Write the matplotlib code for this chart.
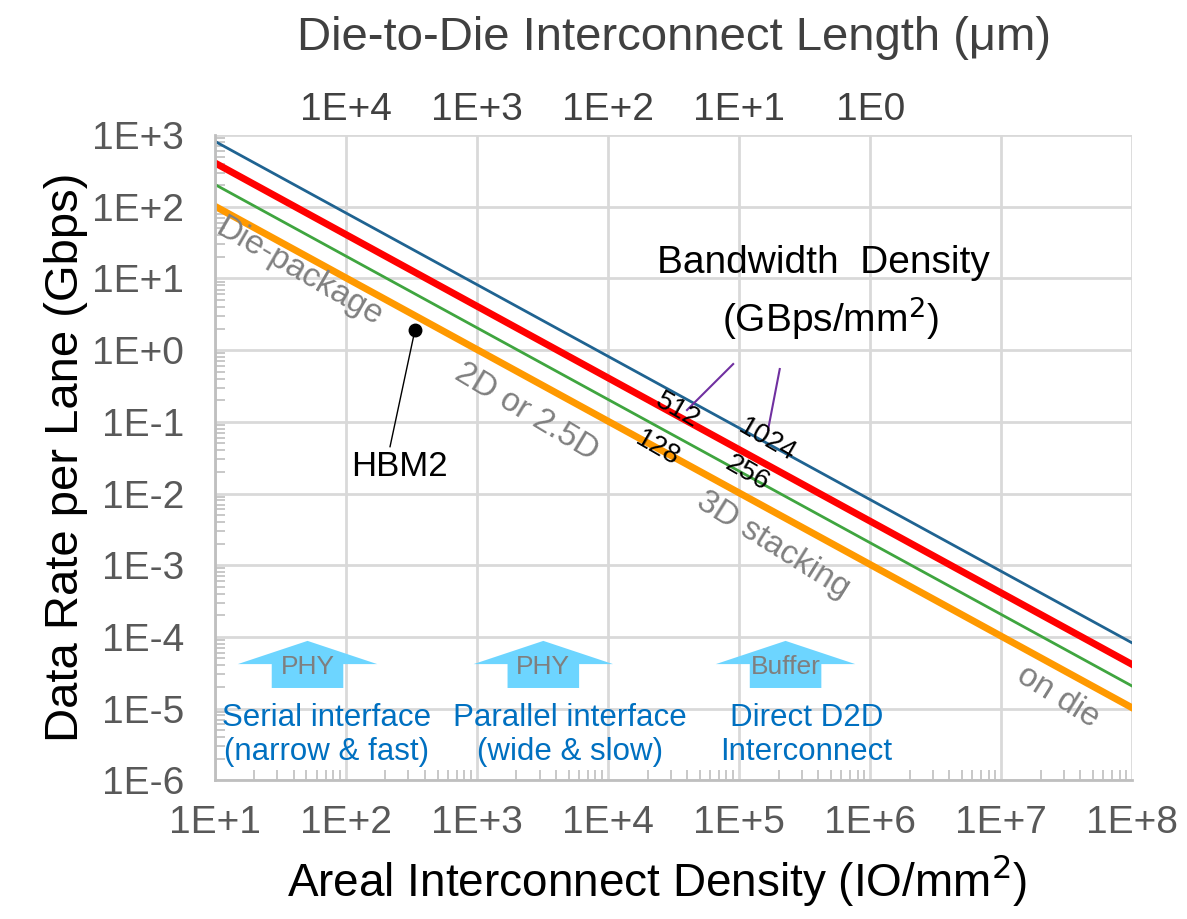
import matplotlib
matplotlib.use("Agg")
import matplotlib.pyplot as plt
from matplotlib.patches import Polygon
from matplotlib.ticker import LogLocator, NullFormatter

# data (Gbps per lane vs IO/mm2)
density = [1e1, 1e2, 1e3, 1e4, 1e5, 1e6, 1e7, 1e8]
bw_1024 = [820, 82, 8.2, 0.82, 0.082, 0.0082, 0.00082, 0.000082]
bw_512 = [410, 41, 4.1, 0.41, 0.041, 0.0041, 0.00041, 0.000041]
bw_256 = [205, 20.5, 2.05, 0.205, 0.0205, 0.00205, 0.000205, 0.0000205]
bw_128 = [102, 10.2, 1.02, 0.102, 0.0102, 0.00102, 0.000102, 0.0000102]

x_ticks = [1e1, 1e2, 1e3, 1e4, 1e5, 1e6, 1e7, 1e8]
x_labels = ["1E+1", "1E+2", "1E+3", "1E+4", "1E+5", "1E+6", "1E+7", "1E+8"]
y_ticks = [1e-6, 1e-5, 1e-4, 1e-3, 1e-2, 1e-1, 1e0, 1e1, 1e2, 1e3]
y_labels = ["1E-6", "1E-5", "1E-4", "1E-3", "1E-2", "1E-1", "1E+0", "1E+1", "1E+2", "1E+3"]
top_ticks = [1e4, 1e3, 1e2, 1e1, 1e0]
top_labels = ["1E+4", "1E+3", "1E+2", "1E+1", "1E0"]

hbm2_x, hbm2_y = 336, 1.9

plt.rcParams["font.family"] = ["Liberation Sans", "DejaVu Sans"]
gray_txt = "#595959"
grid_c = "#D9D9D9"

fig = plt.figure(figsize=(11.87, 9.19), dpi=100)
ax = fig.add_axes([0.181, 0.151, 0.773, 0.702])

ax.plot(density, bw_1024, color="#1F6391", lw=2.0)
ax.plot(density, bw_512, color="#FF0000", lw=5.0)
ax.plot(density, bw_256, color="#3FA53F", lw=2.0)
ax.plot(density, bw_128, color="#FF9900", lw=5.0)

ax.set_xscale("log")
ax.set_yscale("log")
ax.set_xlim(1e1, 1e8)
ax.set_ylim(1e-6, 1e3)
ax.set_xticks(x_ticks)
ax.set_xticklabels(x_labels)
ax.set_yticks(y_ticks)
ax.set_yticklabels(y_labels)
ax.xaxis.set_minor_locator(LogLocator(base=10, subs=range(2, 10), numticks=20))
ax.yaxis.set_minor_locator(LogLocator(base=10, subs=range(2, 10), numticks=20))
ax.xaxis.set_minor_formatter(NullFormatter())
ax.yaxis.set_minor_formatter(NullFormatter())
ax.tick_params(which="major", length=0, labelsize=28, labelcolor=gray_txt)
ax.tick_params(axis="x", which="major", pad=18)
ax.tick_params(axis="y", which="major", pad=22)
ax.tick_params(which="minor", direction="in", length=7, color="#BFBFBF", width=1.2)
ax.grid(True, which="major", color=grid_c, lw=2)
ax.set_axisbelow(True)
for s in ["top", "right"]:
    ax.spines[s].set_visible(False)
for s in ["left", "bottom"]:
    ax.spines[s].set_color("#BFBFBF")
    ax.spines[s].set_linewidth(2)

ax.set_xlabel("Areal Interconnect Density (IO/mm$^2$)", fontsize=33, labelpad=8)
ax.xaxis.label.set_x(0.482)
ax.set_ylabel("Data Rate per Lane (Gbps)", fontsize=34, labelpad=3)

# top axis: interconnect length
sec = ax.secondary_xaxis("top", functions=(lambda v: 1e6 / v, lambda v: 1e6 / v))
sec.set_xticks(top_ticks)
sec.set_xticklabels(top_labels)
sec.xaxis.set_minor_locator(plt.NullLocator())
sec.tick_params(length=0, labelsize=28, labelcolor="#404040", pad=5)
sec.spines["top"].set_visible(False)
sec.set_xlabel("Die-to-Die Interconnect Length (\u03bcm)", fontsize=34, color="#404040", labelpad=30)

# region labels along the lines
rot = -30
ax.text(44, 12.3, "Die-package", fontsize=24, color="#808080", rotation=rot,
        ha="center", va="center", rotation_mode="anchor")
ax.text(2400, 0.137, "2D or 2.5D", fontsize=24, color="#808080", rotation=rot - 1,
        ha="center", va="center", rotation_mode="anchor")
ax.text(1.8e5, 1.9e-3, "3D stacking", fontsize=24, color="#808080", rotation=rot - 2,
        ha="center", va="center", rotation_mode="anchor")
ax.text(2.7e7, 1.45e-5, "on die", fontsize=24, color="#808080", rotation=rot - 2,
        ha="center", va="center", rotation_mode="anchor")

# bandwidth density labels
ax.text(4.4e5, 16.4, "Bandwidth  Density", fontsize=28, ha="center", va="center")
ax.text(5.0e5, 2.8, "(GBps/mm$^2$)", fontsize=28, ha="center", va="center")
ax.text(3.4e4, 0.146, "512", fontsize=20, rotation=rot, ha="center", va="center", rotation_mode="anchor")
ax.text(1.63e5, 0.0557, "1024", fontsize=20, rotation=rot, ha="center", va="center", rotation_mode="anchor")
ax.text(2.37e4, 0.042, "128", fontsize=20, rotation=rot, ha="center", va="center", rotation_mode="anchor")
ax.text(1.15e5, 0.0193, "256", fontsize=20, rotation=rot, ha="center", va="center", rotation_mode="anchor")
ax.plot([4.0e4, 9.0e4], [0.146, 0.64], color="#7030A0", lw=1.5)
ax.plot([1.66e5, 2.04e5], [0.077, 0.545], color="#7030A0", lw=1.5)

# HBM2 point
ax.plot([hbm2_x, 217], [hbm2_y, 0.045], color="black", lw=1)
ax.plot([hbm2_x], [hbm2_y], "o", color="black", ms=9)
ax.text(258, 0.024, "HBM2", fontsize=25, ha="center", va="center")

# block arrows and interface labels (axes fraction)
arrow_c = "#6DD5FF"
for cx, word in [(0.101, "PHY"), (0.358, "PHY"), (0.622, "Buffer")]:
    pts = [(cx - 0.039, 0.143), (cx + 0.039, 0.143), (cx + 0.039, 0.180),
           (cx + 0.076, 0.180), (cx, 0.216), (cx - 0.076, 0.180), (cx - 0.039, 0.180)]
    ax.add_patch(Polygon(pts, closed=True, transform=ax.transAxes, color=arrow_c, lw=0, zorder=3))
    ax.text(cx, 0.175, word, transform=ax.transAxes, fontsize=19, color="#7F7F7F",
            ha="center", va="center", zorder=4)

blue_txt = "#0070C0"
for cx, txt in [(0.122, "Serial interface\n(narrow & fast)"),
                (0.387, "Parallel interface\n(wide & slow)"),
                (0.645, "Direct D2D\nInterconnect")]:
    ax.text(cx, 0.07, txt, transform=ax.transAxes, fontsize=22.5, color=blue_txt,
            ha="center", va="center", linespacing=1.15, zorder=4)

fig.savefig("out.png", dpi=100)
